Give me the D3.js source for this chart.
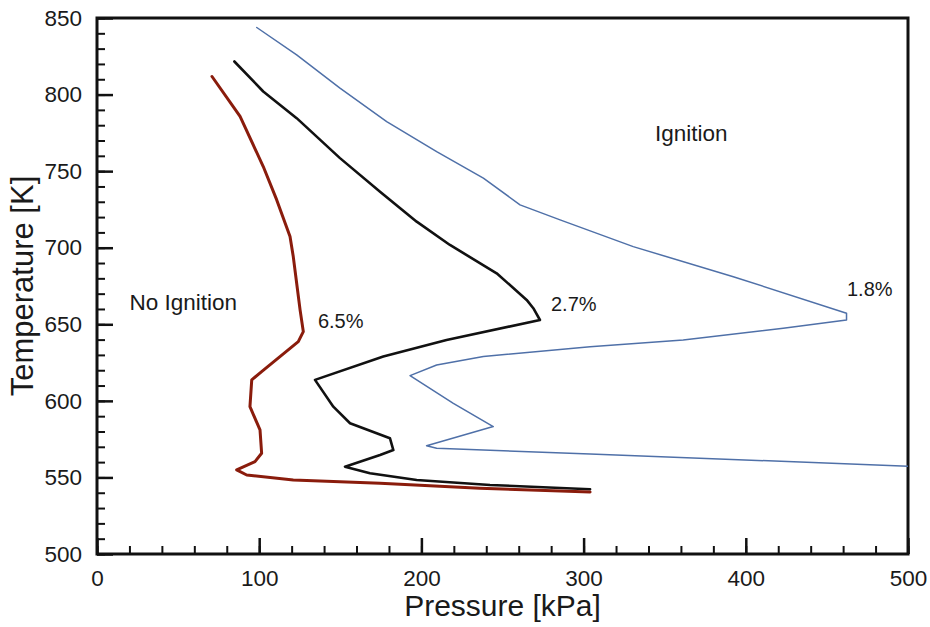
<!DOCTYPE html>
<html>
<head>
<meta charset="utf-8">
<script src="https://cdn.jsdelivr.net/npm/d3@7"></script>
<style>
  html, body { margin: 0; padding: 0; background: #fff; }
  svg { display: block; }
  text { font-family: "Liberation Sans", Arial, Helvetica, sans-serif; fill: #1a1a1a; }
</style>
</head>
<body>
<svg id="chart" width="930" height="627"></svg>
<script>
// Ignition boundaries: pressure [kPa] vs temperature [K] for three mixture fractions
const pressure65 = [70.9, 88.2, 102.5, 110.8, 119, 121, 123.1, 125.2, 127.2, 124.1, 112.8, 101.5, 95.4, 94.3, 100.5, 101.5, 97.4, 86.1, 92.3, 121, 174.5, 236, 304];
const temp65     = [811.8, 785.8, 753, 731.2, 707.3, 694.2, 676.8, 659.4, 645.2, 638.7, 628.9, 619.1, 613.7, 596.2, 581, 565.8, 560.3, 554.9, 551.6, 548.3, 546.2, 542.9, 540.5];

const pressure27 = [84.7, 102.5, 123.1, 149.8, 174.5, 197.1, 217.6, 246.4, 264.9, 269, 273.1, 215.5, 176.5, 134.4, 145.7, 156, 172.4, 180.6, 182.7, 174.5, 152.9, 168.3, 197.1, 242.3, 304];
const temp27     = [821.6, 802, 784.6, 758.5, 736.6, 717, 701.8, 683.3, 665.9, 660.5, 652.8, 639.8, 628.9, 613.7, 596.2, 585.4, 578.8, 575.6, 567.9, 564.7, 557, 552.7, 548.3, 545.1, 542.3];

const pressure18 = [98.5, 123.1, 149.8, 178.6, 209.4, 238.2, 260.8, 285.5, 330.6, 392.3, 462.1, 462.1, 423.1, 361.4, 304, 238.2, 209.4, 193, 219.7, 244.3, 203.2, 209.4, 304, 500];
const temp18     = [843.8, 825.9, 804.2, 782.4, 762.8, 745.4, 728, 718.2, 700.7, 681.1, 657.2, 652.8, 647.4, 639.8, 635.4, 628.9, 623.4, 616.5, 598.4, 583.2, 570.7, 569, 565.3, 557.3];

const xMajorTicks = [0, 100, 200, 300, 400, 500];
const yMajorTicks = [500, 550, 600, 650, 700, 750, 800, 850];

const seriesLabels = ["6.5%", "2.7%", "1.8%"];
const seriesLabelPos = [[136.2, 647.6], [279.9, 658.7], [462.4, 668.5]];
const regionLabels = ["No Ignition", "Ignition"];
const regionLabelPos = [[20, 659.4], [344, 769.8]];

const margin = { left: 97, top: 18, right: 22, bottom: 73 };
const W = 930, H = 627;
const svg = d3.select("#chart");

const x = d3.scaleLinear().domain([0, 500]).range([margin.left, W - margin.right]);
const y = d3.scaleLinear().domain([500, 850]).range([H - margin.bottom, margin.top]);

const axisColor = "#111";
const fontFam = "'Liberation Sans', Arial, Helvetica, sans-serif";

// minor ticks
svg.append("g")
  .attr("transform", `translate(0,${y(500)})`)
  .call(d3.axisBottom(x).tickValues(d3.range(0, 501, 20)).tickSize(-8).tickSizeOuter(0).tickFormat(""))
  .call(g => g.select(".domain").remove())
  .call(g => g.selectAll("line").attr("stroke", axisColor).attr("stroke-width", 2));
svg.append("g")
  .attr("transform", `translate(${x(0)},0)`)
  .call(d3.axisLeft(y).tickValues(d3.range(500, 851, 10)).tickSize(-8).tickSizeOuter(0).tickFormat(""))
  .call(g => g.select(".domain").remove())
  .call(g => g.selectAll("line").attr("stroke", axisColor).attr("stroke-width", 2));

// major ticks with labels
svg.append("g")
  .attr("transform", `translate(0,${y(500)})`)
  .call(d3.axisBottom(x).tickValues(xMajorTicks).tickSize(-16).tickSizeOuter(0).tickPadding(16))
  .call(g => g.select(".domain").remove())
  .call(g => g.selectAll("line").attr("stroke", axisColor).attr("stroke-width", 2.5))
  .call(g => g.selectAll("text").attr("font-size", 22.5).attr("fill", "#1a1a1a").style("font-family", fontFam));
svg.append("g")
  .attr("transform", `translate(${x(0)},0)`)
  .call(d3.axisLeft(y).tickValues(yMajorTicks).tickSize(-16).tickSizeOuter(0).tickPadding(15))
  .call(g => g.select(".domain").remove())
  .call(g => g.selectAll("line").attr("stroke", axisColor).attr("stroke-width", 2.5))
  .call(g => g.selectAll("text").attr("font-size", 22.5).attr("fill", "#1a1a1a").style("font-family", fontFam));

// frame
svg.append("rect")
  .attr("x", x(0)).attr("y", y(850))
  .attr("width", x(500) - x(0)).attr("height", y(500) - y(850))
  .attr("fill", "none").attr("stroke", axisColor).attr("stroke-width", 3);

// curves
const line = d3.line().x(d => x(d[0])).y(d => y(d[1]));
svg.append("clipPath").attr("id", "plotclip").append("rect")
  .attr("x", x(0)).attr("y", y(850)).attr("width", x(500) - x(0)).attr("height", y(500) - y(850));

const series = [
  { p: pressure18, t: temp18, color: "#4f70a8", width: 1.5 },
  { p: pressure27, t: temp27, color: "#111111", width: 2.6 },
  { p: pressure65, t: temp65, color: "#8a1c0c", width: 3 }
];
svg.append("g").attr("clip-path", "url(#plotclip)")
  .selectAll("path").data(series).join("path")
  .attr("d", s => line(s.p.map((v, i) => [v, s.t[i]])))
  .attr("fill", "none")
  .attr("stroke", s => s.color)
  .attr("stroke-width", s => s.width)
  .attr("stroke-linejoin", "round")
  .attr("stroke-linecap", "round");

// curve labels
svg.append("g").selectAll("text").data(seriesLabels).join("text")
  .attr("x", (d, i) => x(seriesLabelPos[i][0]))
  .attr("y", (d, i) => y(seriesLabelPos[i][1]))
  .attr("font-size", 20)
  .text(d => d);

// region labels
svg.append("g").selectAll("text").data(regionLabels).join("text")
  .attr("x", (d, i) => x(regionLabelPos[i][0]))
  .attr("y", (d, i) => y(regionLabelPos[i][1]))
  .attr("font-size", 22.5)
  .text(d => d);

// axis titles
svg.append("text")
  .attr("x", (x(0) + x(500)) / 2).attr("y", 616)
  .attr("text-anchor", "middle").attr("font-size", 30)
  .text("Pressure [kPa]");
svg.append("text")
  .attr("transform", `translate(33,${(y(500) + y(850)) / 2}) rotate(-90)`)
  .attr("text-anchor", "middle").attr("font-size", 31)
  .text("Temperature [K]");
</script>
</body>
</html>
